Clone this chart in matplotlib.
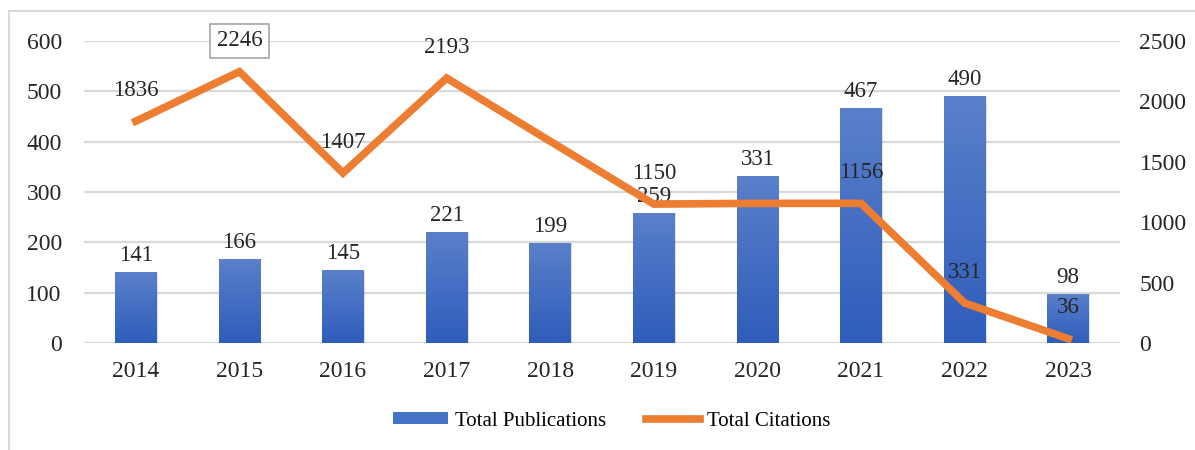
import matplotlib
matplotlib.use("Agg")
import matplotlib.pyplot as plt
import numpy as np
from matplotlib.colors import LinearSegmentedColormap
from matplotlib.patches import Rectangle
from matplotlib.lines import Line2D

years = ["2014", "2015", "2016", "2017", "2018", "2019", "2020", "2021", "2022", "2023"]
publications = [141, 166, 145, 221, 199, 259, 331, 467, 490, 98]
citations = [1836, 2246, 1407, 2193, 1670, 1150, 1156, 1156, 331, 36]
citation_labels = ["1836", "2246", "1407", "2193", "", "1150", "", "1156", "331", "36"]
left_ticks = [0, 100, 200, 300, 400, 500, 600]
right_ticks = [0, 500, 1000, 1500, 2000, 2500]

plt.rcParams['font.family'] = ['Liberation Serif', 'DejaVu Serif']
W, H = 1195, 450
fig = plt.figure(figsize=(W / 100, H / 100), dpi=100)
ax = fig.add_axes([84 / W, 1 - 343 / H, (1120 - 84) / W, (343 - 41) / H])
ax2 = ax.twinx()

x = np.arange(len(years))
ax.set_xlim(-0.5, len(years) - 0.5)
ax.set_ylim(0, 600)
ax2.set_ylim(0, 2500)

for y in left_ticks:
    ax.axhline(y, color="#D9D9D9", lw=1.6, zorder=0)

cmap = LinearSegmentedColormap.from_list("g", ["#2E5DBB", "#5B80CB"])
grad = np.linspace(0, 1, 256).reshape(-1, 1)
bw = 0.4
TXT = "#262626"
bars = ax.bar(x, publications, width=bw, color="none", zorder=2)
for b, v in zip(bars, publications):
    ax.add_patch(Rectangle((b.get_x() + 0.012, 0), bw, v - 1, facecolor="#000000", alpha=0.12, zorder=1.5, lw=0))
    im = ax.imshow(grad, cmap=cmap, aspect="auto", origin="lower",
                   extent=(b.get_x(), b.get_x() + bw, 0, v), zorder=2)
    im.set_clip_path(b)
    ax.text(b.get_x() + bw / 2, v + 12, str(v), ha="center", va="bottom", fontsize=16.5, color=TXT, zorder=5)
ax.set_xlim(-0.5, len(years) - 0.5)
ax.set_ylim(0, 600)

ax2.plot(x, citations, color="#ED7D31", lw=5.5, solid_joinstyle="miter", zorder=3)
for xi, c, lab in zip(x, citations, citation_labels):
    if not lab:
        continue
    kw = {}
    if lab == "2246":
        kw["bbox"] = dict(boxstyle="square,pad=0.3", facecolor="white", edgecolor="#A6A6A6", lw=1.2)
    ax2.text(xi, c + 255, lab, ha="center", va="center", fontsize=16.5, color=TXT, zorder=6, **kw)

ax.set_xticks(x)
ax.set_xticklabels(years, fontsize=17, color=TXT)
ax.set_yticks(left_ticks)
ax.set_yticklabels([str(t) for t in left_ticks], fontsize=17, color=TXT)
ax2.set_yticks(right_ticks)
ax2.set_yticklabels([str(t) for t in right_ticks], fontsize=17, color=TXT)
ax.tick_params(axis="both", length=0)
ax.tick_params(axis="x", pad=13)
ax.tick_params(axis="y", pad=16)
ax2.tick_params(axis="y", length=0, pad=14)
for a in (ax, ax2):
    for s in a.spines.values():
        s.set_visible(False)
ax.set_zorder(ax2.get_zorder() - 1)
ax2.patch.set_visible(False)

handles = [Rectangle((0, 0), 1, 1, facecolor="#4472C4", edgecolor="none"),
           Line2D([0], [0], color="#ED7D31", lw=5.5)]
fig.legend(handles, ["Total Publications", "Total Citations"], loc="center",
           bbox_to_anchor=(612 / W, 1 - 421 / H), ncol=2, frameon=False, fontsize=15,
           handlelength=2.6, handleheight=0.5, columnspacing=1.9, handletextpad=0.35)

fig.add_artist(Rectangle((9 / W, -0.1), 1.2, 1 - 11 / H + 0.1, transform=fig.transFigure,
                         fill=False, edgecolor="#D9D9D9", lw=1.5))
fig.savefig("out.png", dpi=100)
